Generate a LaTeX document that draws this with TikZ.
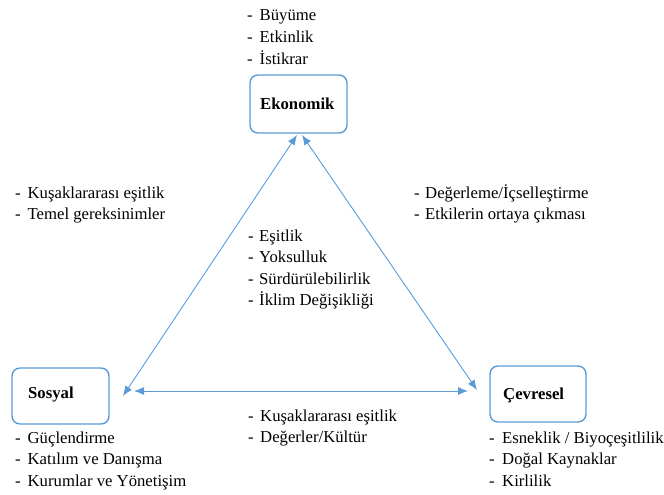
\documentclass[tikz,border=0pt]{standalone}
\usepackage{fontspec}
\setmainfont{Liberation Serif}
\usetikzlibrary{arrows.meta}
\definecolor{linkblue}{HTML}{5B9BD5}
\newcommand{\itm}[2][12.5pt]{\makebox[#1][l]{-}#2}
\tikzset{
  x=1pt, y=-1pt,
  pillar/.style={draw=linkblue, line width=1.4pt, rounded corners=8pt},
  pillarname/.style={anchor=base west, inner sep=0pt, font=\fontsize{16.7}{20}\selectfont\bfseries},
  % multi-line lists are placed by the baseline of their last line
  points/.style={anchor=base west, inner sep=0pt, align=left,
    font=\fontsize{16.7}{21.6}\selectfont},
  link/.style={draw=linkblue, line width=0.9pt,
    {Latex[length=10pt,width=8pt]}-{Latex[length=10pt,width=8pt]}}
}
\begin{document}
\begin{tikzpicture}
\useasboundingbox (0,0) rectangle (664,495);

% the three pillars
\draw[pillar] (250,75) rectangle (347,133);
\node[pillarname] (eko) at (260,110) {Ekonomik};
\draw[pillar] (12,368) rectangle (109,424);
\node[pillarname] (sos) at (28,398) {Sosyal};
\draw[pillar] (490,366) rectangle (586,422);
\node[pillarname] (cev) at (503,399) {Çevresel};

% end points of the links
\coordinate (ekoL) at (297,135);
\coordinate (ekoR) at (302,135);
\coordinate (sosT) at (123,396);
\coordinate (sosR) at (134,391);
\coordinate (cevT) at (477,390);
\coordinate (cevL) at (468,391);

\draw[link] (ekoL) -- (sosT);
\draw[link] (ekoR) -- (cevT);
\draw[link] (sosR) -- (cevL);

% lists of themes
\node[points] (ekolist) at (247,64.2) {\itm{Büyüme}\\\itm{Etkinlik}\\\itm{İstikrar}};
\node[points] (ekosos) at (15,219.6) {\itm{Kuşaklararası eşitlik}\\\itm{Temel gereksinimler}};
\node[points] (ekocev) at (414,219.6) {\itm[11pt]{Değerleme/İçselleştirme}\\\itm[11pt]{Etkilerin ortaya çıkması}};
\node[points] (core) at (248,305.8) {\itm[11pt]{Eşitlik}\\\itm[11pt]{Yoksulluk}\\\itm[11pt]{Sürdürülebilirlik}\\\itm[11pt]{İklim Değişikliği}};
\node[points] (soscev) at (248,442.6) {\itm[12pt]{Kuşaklararası eşitlik}\\\itm[12pt]{Değerler/Kültür}};
\node[points] (soslist) at (15,486.2) {\itm{Güçlendirme}\\\itm{Katılım ve Danışma}\\\itm{Kurumlar ve Yönetişim}};
\node[points] (cevlist) at (489,486.2) {\itm[13pt]{Esneklik / Biyoçeşitlilik}\\\itm[13pt]{Doğal Kaynaklar}\\\itm[13pt]{Kirlilik}};
\end{tikzpicture}
\end{document}
